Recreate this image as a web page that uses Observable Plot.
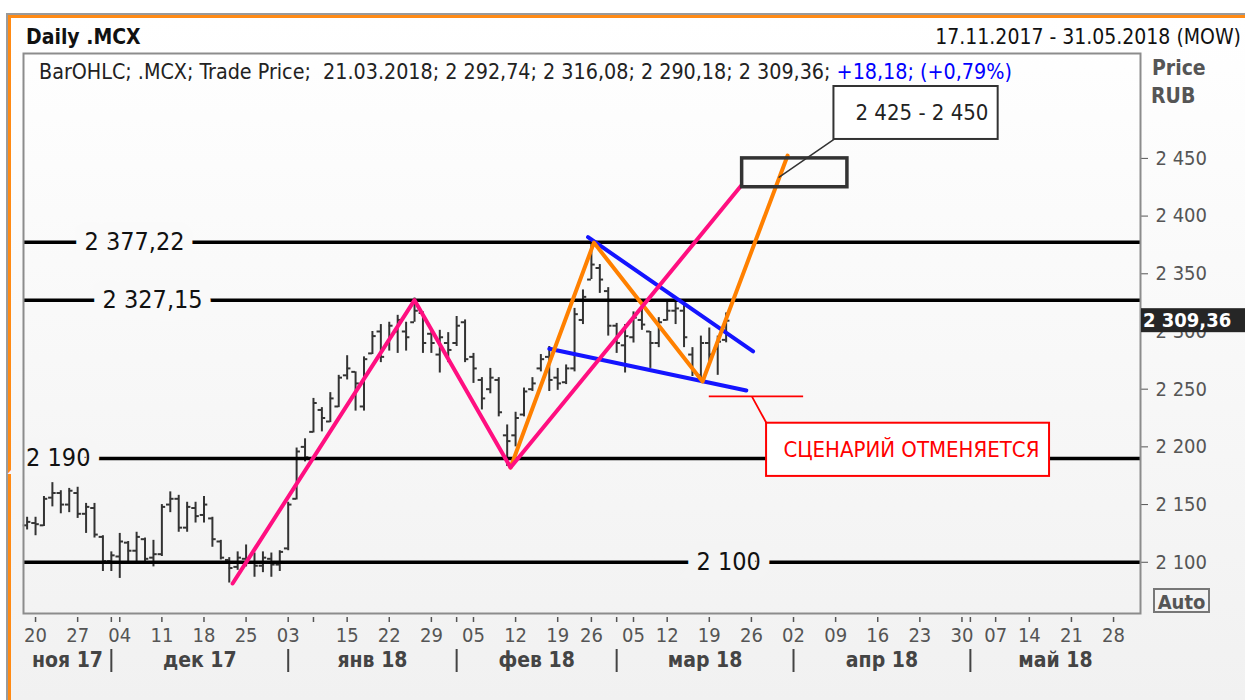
<!DOCTYPE html>
<html><head><meta charset="utf-8">
<script src="https://cdn.jsdelivr.net/npm/d3@7"></script>
<script src="https://cdn.jsdelivr.net/npm/@observablehq/plot@0.6"></script>
<style>
html,body{margin:0;padding:0;background:#fff;}
#chart{position:absolute;left:0;top:0;width:1245px;height:700px;}
</style></head><body><div id="chart"></div>
<script>
// ---------- DATA ----------
const firstDay = "2017-11-17", lastDay = "2018-05-31";
const holidays = ["2018-01-01","2018-01-02","2018-01-08","2018-02-23","2018-03-08","2018-05-01","2018-05-09"];
const monthsRu = ["янв","фев","мар","апр","май","июн","июл","авг","сен","окт","ноя","дек"];
const hiddenTickLabels = ["2018-01-09"];

const open = [2132,2134,2132,2156,2160,2150,2160,2142,2147,2122,
  2101,2105,2117,2110,2120,2104,2107,2150,2155,2130,
  2147,2141,2138,2118,2102,2096,2103,2100,2097,2103,
  2098,2112,2155,2200,2213,2232,2222,2235,2262,2265,
  2235,2281,2300,2290,2300,2300,2308,2316,2298,2280,
  2290,2290,2308,2278,2258,2250,2258,2210,2210,2228,
  2250,2268,2278,2260,2256,2268,2310,2345,2355,2335,
  2305,2288,2295,2310,2300,2290,2310,2318,2318,2280,
  2262,2290,2285,2292.74];
const high = [2139,2139,2157,2169,2162,2164,2165,2151,2151,2123,
  2109,2125,2118,2126,2121,2119,2150,2161,2158,2152,
  2152,2157,2139,2119,2104,2109,2115,2108,2109,2108,
  2110,2152,2199,2207,2242,2234,2247,2262,2279,2265,
  2278,2300,2306,2308,2314,2308,2329,2317,2301,2301,
  2299,2313,2310,2281,2260,2268,2260,2219,2230,2251,
  2260,2280,2287,2268,2271,2320,2336,2377,2358,2338,
  2307,2306,2317,2322,2300,2312,2326,2327,2323,2286,
  2296,2303,2296,2316.08];
const low = [2128,2123,2131,2148,2142,2143,2138,2125,2121,2092,
  2092,2086,2100,2100,2100,2096,2105,2143,2126,2126,
  2134,2134,2113,2102,2082,2093,2096,2087,2091,2087,
  2092,2110,2154,2187,2212,2213,2221,2234,2258,2231,
  2231,2280,2273,2283,2281,2283,2308,2281,2281,2264,
  2273,2287,2273,2255,2232,2246,2226,2183,2200,2226,
  2248,2265,2248,2249,2254,2265,2306,2345,2333,2296,
  2281,2264,2290,2301,2268,2286,2309,2306,2286,2261,
  2257,2273,2262,2290.18];
const close = [2135,2133,2155,2160,2150,2162,2142,2148,2124,2101,
  2106,2118,2110,2122,2103,2107,2148,2155,2130,2148,
  2140,2150,2120,2104,2095,2104,2100,2097,2104,2098,
  2109,2150,2196,2191,2238,2225,2242,2260,2268,2255,
  2276,2296,2278,2305,2310,2295,2318,2290,2290,2295,
  2284,2305,2276,2268,2242,2260,2230,2205,2225,2248,
  2255,2276,2258,2255,2268,2315,2330,2358,2345,2305,
  2290,2296,2312,2306,2290,2308,2318,2320,2295,2265,
  2290,2280,2291.18,2309.36];

const levels = [2377.22, 2327.15, 2190, 2100];
const levelLabelAt = [12.75, 14.9, 3.7, 83.3];   // trading-day index of each level's label

const pinkIdx = [24.4, 46.0, 57.4, 84.8];
const pinkPrice = [2081.6, 2327.15, 2182.1, 2426.5];
const orangeIdx = [57.4, 67.3, 80.2, 90.3];
const orangePrice = [2182.1, 2377.0, 2256.7, 2452.5];
const blueUpperIdx = [66.6, 86.2];
const blueUpperPrice = [2381.7, 2282.7];
const blueLowerIdx = [62.0, 85.4];
const blueLowerPrice = [2285.0, 2248.9];

const targetIdx = [84.9, 97.4], targetPrice = [2425, 2450];
const targetLabel = "2 425 - 2 450";
const calloutIdx = [95.8, 115.3], calloutPrice = [2466.4, 2512.3];
const calloutLinkIdx = [95.8, 89.3], calloutLinkPrice = [2466.4, 2433.7];
const cancelLevel = 2243.8, cancelIdx = [81.0, 92.2];
const cancelLinkIdx = [86.1, 87.8], cancelLinkPrice = [2243.1, 2220.5];
const cancelBoxIdx = [87.8, 121.4], cancelBoxPrice = [2174.4, 2220.5];
const cancelText = "СЦЕНАРИЙ ОТМЕНЯЕТСЯ";

const yTicks = [2100, 2150, 2200, 2250, 2300, 2350, 2400, 2450];
const xDomain = [-0.43, 132.2];
const yDomain = [2055.6, 2540.9];

// ---------- DERIVED ----------
const FONT = "'DejaVu Sans Condensed', 'Liberation Sans', sans-serif";
const iso = d3.utcFormat("%Y-%m-%d");
const days = d3.utcDay.range(new Date(firstDay), d3.utcDay.offset(new Date(lastDay), 1))
  .filter(d => d.getUTCDay() > 0 && d.getUTCDay() < 6 && !holidays.includes(iso(d)));
const bars = open.map((o, i) => ({i, date: days[i], open: o, high: high[i], low: low[i], close: close[i]}));
const weekStarts = days.map((d, i) => ({d, i})).filter(({d, i}) => i > 0 && +d3.utcMonday.floor(d) !== +d3.utcMonday.floor(days[i - 1]));
const monthStarts = days.map((d, i) => ({d, i})).filter(({d, i}) => i > 0 && d.getUTCMonth() !== days[i - 1].getUTCMonth());
const tickIdx = Array.from(new Set([...weekStarts.map(w => w.i), ...monthStarts.map(m => m.i)]));
const weekLabels = weekStarts.filter(w => !hiddenTickLabels.includes(iso(w.d)))
  .map(w => ({i: w.i, label: d3.utcFormat("%d")(w.d)}));
const bounds = [xDomain[0], ...monthStarts.map(m => m.i), xDomain[1]];
const monthFirst = [days[0], ...monthStarts.map(m => m.d)];
const monthSegs = monthFirst.map((d, k) => ({mid: (bounds[k] + bounds[k + 1]) / 2,
  label: monthsRu[d.getUTCMonth()] + " " + String(d.getUTCFullYear()).slice(2)}));

const ru = d3.formatLocale({decimal: ",", thousands: " ", grouping: [3], currency: ["", ""]});
const fInt = ru.format(",.0f"), f2 = ru.format(",.2f");
const fLevel = v => Number.isInteger(v) ? fInt(v) : f2(v);
const levelData = levels.map((v, k) => ({value: v, at: levelLabelAt[k], label: fLevel(v)}));
const bgAt = v => d3.interpolateRgb("#ffffff", "#f1f1f1")((53 + (yDomain[1] - v) / (yDomain[1] - yDomain[0]) * 560) / 700);

const toPts = (xs, ys) => xs.map((x, k) => ({x, y: ys[k]}));

// ---------- PLOT ----------
const chart = Plot.plot({
  width: 1245, height: 700,
  marginLeft: 23, marginRight: 105, marginTop: 53, marginBottom: 87,
  x: {domain: xDomain, axis: null},
  y: {domain: yDomain, axis: null},
  style: {background: "white", fontFamily: FONT, fontSize: "20px", overflow: "visible"},
  marks: [
    // right axis
    Plot.axisY(yTicks, {anchor: "right", tickSize: 7, tickPadding: 8, tickFormat: fInt, fontSize: 20, color: "#555", label: null}),
    // bottom axis
    Plot.ruleX(tickIdx, {stroke: "#555", strokeWidth: 1.5, insetTop: 564, insetBottom: -9}),
    Plot.text(weekLabels, {x: "i", text: "label", frameAnchor: "bottom", dy: 22, lineAnchor: "middle", fontSize: 20, fill: "#555"}),
    Plot.text(monthSegs, {x: "mid", text: "label", frameAnchor: "bottom", dy: 47, lineAnchor: "middle", fontSize: 21, fontWeight: "bold", fill: "#444"}),
    Plot.ruleX(monthStarts, {x: "i", stroke: "#444", strokeWidth: 2, insetTop: 596, insetBottom: -59}),
    // OHLC bars
    Plot.ruleX(bars, {x: "i", y1: "low", y2: "high", stroke: "#333", strokeWidth: 2}),
    Plot.ruleY(bars, {y: "open", x1: d => d.i - 0.45, x2: "i", stroke: "#333", strokeWidth: 2}),
    Plot.ruleY(bars, {y: "close", x1: "i", x2: d => d.i + 0.45, stroke: "#333", strokeWidth: 2}),
    // level lines
    Plot.ruleY(levels, {stroke: "#000", strokeWidth: 3.5}),
    Plot.text(levelData, {x: "at", y: "value", text: "label", fontSize: 25, fill: "#111", lineAnchor: "middle",
      stroke: d => bgAt(d.value), strokeWidth: 20, strokeLinejoin: "miter"}),
    // trend lines
    Plot.line(toPts(blueUpperIdx, blueUpperPrice), {x: "x", y: "y", stroke: "#1414ff", strokeWidth: 4}),
    Plot.line(toPts(blueLowerIdx, blueLowerPrice), {x: "x", y: "y", stroke: "#1414ff", strokeWidth: 4}),
    Plot.line(toPts(orangeIdx, orangePrice), {x: "x", y: "y", stroke: "#ff8000", strokeWidth: 4}),
    Plot.line(toPts(pinkIdx, pinkPrice), {x: "x", y: "y", stroke: "#ff0f80", strokeWidth: 4}),
    // target box + callout
    Plot.rect([{}], {x1: targetIdx[0], x2: targetIdx[1], y1: targetPrice[0], y2: targetPrice[1], fill: "none", stroke: "#333", strokeWidth: 3.5}),
    Plot.line(toPts(calloutLinkIdx, calloutLinkPrice), {x: "x", y: "y", stroke: "#333", strokeWidth: 1.5}),
    Plot.rect([{}], {x1: calloutIdx[0], x2: calloutIdx[1], y1: calloutPrice[0], y2: calloutPrice[1], fill: "white", stroke: "#333", strokeWidth: 2}),
    Plot.text([targetLabel], {x: (calloutIdx[0] + calloutIdx[1]) / 2 + 0.7, y: (calloutPrice[0] + calloutPrice[1]) / 2, text: d => d, fontSize: 22, fill: "#222", lineAnchor: "middle"}),
    // cancel scenario
    Plot.ruleY([cancelLevel], {x1: cancelIdx[0], x2: cancelIdx[1], stroke: "#ff0000", strokeWidth: 1.8}),
    Plot.line(toPts(cancelLinkIdx, cancelLinkPrice), {x: "x", y: "y", stroke: "#ff0000", strokeWidth: 1.8}),
    Plot.rect([{}], {x1: cancelBoxIdx[0], x2: cancelBoxIdx[1], y1: cancelBoxPrice[0], y2: cancelBoxPrice[1], fill: "white", stroke: "#ff0000", strokeWidth: 2}),
    Plot.text([cancelText], {x: (cancelBoxIdx[0] + cancelBoxIdx[1]) / 2 + 0.4, y: (cancelBoxPrice[0] + cancelBoxPrice[1]) / 2, text: d => d, fontSize: 22, fill: "#ff0000", lineAnchor: "middle"}),
    Plot.frame({stroke: "#8c8c8c", strokeWidth: 2})
  ]
});

// ---------- CHROME ----------
const svg = d3.select(chart);
const ys = chart.scale("y");
const bgLayer = svg.insert("g", ":first-child");
const defs = svg.insert("defs", ":first-child");
const grad = defs.append("linearGradient").attr("id", "bgGrad").attr("x1", 0).attr("y1", 0).attr("x2", 0).attr("y2", 1);
grad.append("stop").attr("offset", "0%").attr("stop-color", "#ffffff");
grad.append("stop").attr("offset", "100%").attr("stop-color", "#f1f1f1");
bgLayer.append("rect").attr("x", 0).attr("y", 0).attr("width", 1245).attr("height", 700).attr("fill", "#fff");
bgLayer.append("rect").attr("x", 11).attr("y", 18).attr("width", 1234).attr("height", 682).attr("fill", "url(#bgGrad)");
bgLayer.append("rect").attr("x", 6).attr("y", 13).attr("width", 1239).attr("height", 2).attr("fill", "#9a9a9a");
bgLayer.append("rect").attr("x", 6).attr("y", 13).attr("width", 2).attr("height", 687).attr("fill", "#9a9a9a");
bgLayer.append("rect").attr("x", 8).attr("y", 15).attr("width", 1237).attr("height", 3).attr("fill", "#ff8a14");
bgLayer.append("rect").attr("x", 8).attr("y", 15).attr("width", 3).attr("height", 685).attr("fill", "#ff8a14");

const overlay = svg.append("g").attr("font-family", FONT).attr("text-anchor", "start");
overlay.append("text").attr("x", 26).attr("y", 44).attr("font-size", 21).attr("font-weight", "bold").attr("fill", "#111").text("Daily .MCX");
overlay.append("text").attr("x", 1241).attr("y", 44).attr("font-size", 21).attr("text-anchor", "end").attr("fill", "#111")
  .text(`${d3.utcFormat("%d.%m.%Y")(new Date(firstDay))} - ${d3.utcFormat("%d.%m.%Y")(new Date(lastDay))} (MOW)`);

const last = bars[bars.length - 1], prev = bars[bars.length - 2];
const chg = last.close - prev.close, pct = chg / prev.close * 100;
const info = overlay.append("text").attr("x", 39).attr("y", 79).attr("font-size", 21.3).attr("fill", "#222").style("white-space", "pre");
info.append("tspan").text(`BarOHLC; .MCX; Trade Price;  ${d3.utcFormat("%d.%m.%Y")(last.date)}; ${f2(last.open)}; ${f2(last.high)}; ${f2(last.low)}; ${f2(last.close)}; `);
info.append("tspan").attr("fill", "#0000ff").text(`${ru.format("+,.2f")(chg)}; (${ru.format("+.2f")(pct)}%)`);

overlay.append("text").attr("x", 1152).attr("y", 75).attr("font-size", 21).attr("font-weight", "bold").attr("fill", "#555").text("Price");
overlay.append("text").attr("x", 1151).attr("y", 103).attr("font-size", 21).attr("font-weight", "bold").attr("fill", "#555").text("RUB");

const yl = ys.apply(last.close);
overlay.append("rect").attr("x", 1141).attr("y", yl - 12).attr("width", 104).attr("height", 24).attr("fill", "#262626");
overlay.append("text").attr("x", 1143).attr("y", yl + 7).attr("font-size", 20).attr("font-weight", "bold").attr("fill", "#fff").text(f2(last.close));

overlay.append("rect").attr("x", 1154).attr("y", 589).attr("width", 55).attr("height", 23).attr("fill", "none").attr("stroke", "#777").attr("stroke-width", 2);
overlay.append("text").attr("x", 1181.5).attr("y", 609).attr("font-size", 20).attr("font-weight", "bold").attr("text-anchor", "middle").attr("fill", "#555").text("Auto");

document.getElementById("chart").append(chart);
</script></body></html>
